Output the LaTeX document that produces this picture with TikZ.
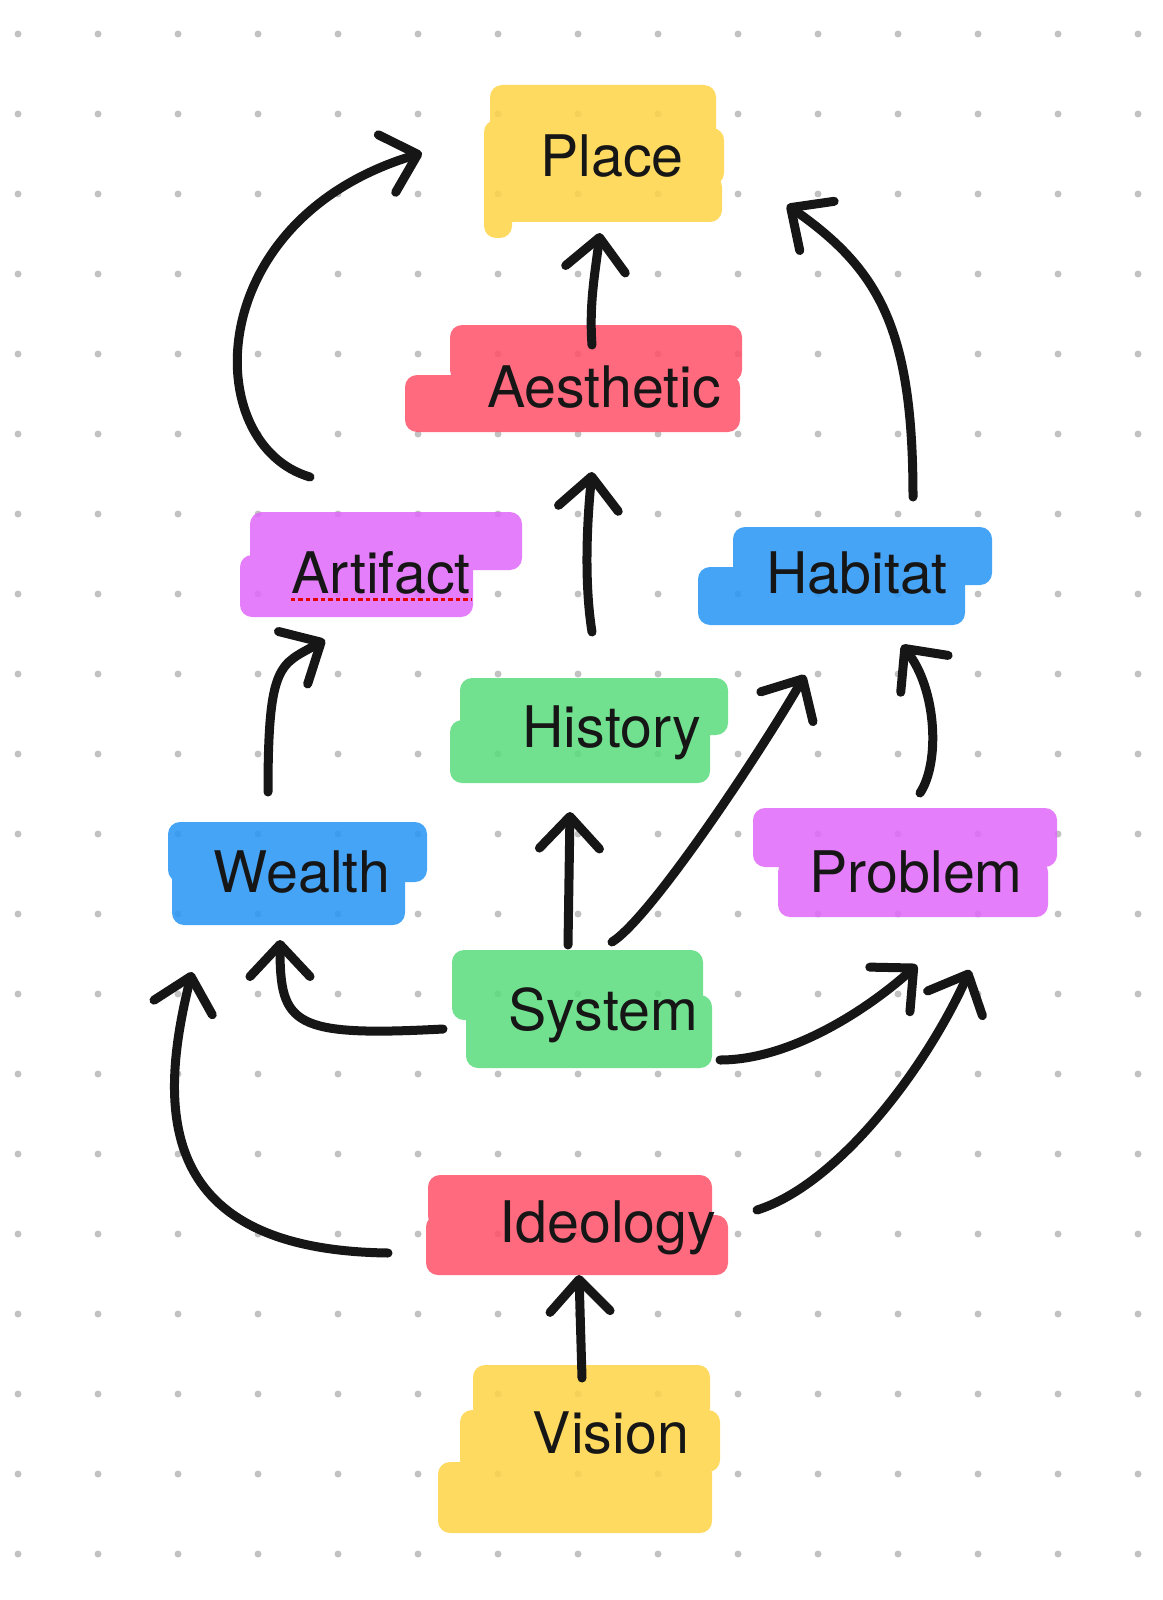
\documentclass[tikz,border=0pt]{standalone}
\usepackage{fontspec}
\setmainfont{TeX Gyre Heros}
\usepackage{tikz}
\usetikzlibrary{arrows.meta}
\definecolor{ink}{RGB}{22,22,22}
\definecolor{dotgrey}{RGB}{194,194,194}
\definecolor{cyellow}{RGB}{255,212,72}
\definecolor{cred}{RGB}{255,82,105}
\definecolor{cmagenta}{RGB}{225,105,250}
\definecolor{cblue}{RGB}{40,150,245}
\definecolor{cgreen}{RGB}{90,220,125}
\tikzset{
  hlgroup/.style = {transparency group, opacity=0.86},
  marker/.style  = {fill=#1, rounded corners=1.2mm},
  word/.style  = {anchor=base, inner sep=0pt, text=ink,
                  font=\fontsize{16.3}{19}\selectfont},
  pen/.style   = {draw=ink, line width=0.9mm, line cap=round, line join=round,
                  -{Straight Barb[length=3.2mm, width=6mm, round]}},
  spell/.style = {draw=red!90!black, line width=0.3mm, dash pattern=on 0.45mm off 0.3mm},
}

\begin{document}
\begin{tikzpicture}[x=0.01cm, y=-0.01cm]
  \useasboundingbox[fill=white] (0,0) rectangle (1162,1600);
  % dot grid
  \foreach \i in {0,...,14}
    \foreach \j in {0,...,19}
      \fill[dotgrey] (18+80*\i, 34+80*\j) circle[radius=3.5];

  % highlighter strokes
  \begin{scope}[hlgroup]
    \fill[marker=cyellow] (490,85) rectangle (716,140);
    \fill[marker=cyellow] (484,128) rectangle (724,185);
    \fill[marker=cyellow] (485,175) rectangle (722,222);
    \fill[marker=cyellow] (484,120) rectangle (512,238);
  \end{scope}
  \begin{scope}[hlgroup]
    \fill[marker=cred] (450,325) rectangle (742,382);
    \fill[marker=cred] (405,375) rectangle (740,432);
  \end{scope}
  \begin{scope}[hlgroup]
    \fill[marker=cmagenta] (250,512) rectangle (522,570);
    \fill[marker=cmagenta] (240,555) rectangle (473,617);
  \end{scope}
  \begin{scope}[hlgroup]
    \fill[marker=cblue] (733,527) rectangle (992,585);
    \fill[marker=cblue] (698,567) rectangle (965,625);
  \end{scope}
  \begin{scope}[hlgroup]
    \fill[marker=cgreen] (460,678) rectangle (728,735);
    \fill[marker=cgreen] (450,720) rectangle (710,783);
  \end{scope}
  \begin{scope}[hlgroup]
    \fill[marker=cblue] (168,822) rectangle (427,882);
    \fill[marker=cblue] (172,862) rectangle (405,925);
  \end{scope}
  \begin{scope}[hlgroup]
    \fill[marker=cmagenta] (753,808) rectangle (1057,867);
    \fill[marker=cmagenta] (778,860) rectangle (1048,917);
  \end{scope}
  \begin{scope}[hlgroup]
    \fill[marker=cgreen] (452,950) rectangle (703,1020);
    \fill[marker=cgreen] (466,995) rectangle (712,1068);
  \end{scope}
  \begin{scope}[hlgroup]
    \fill[marker=cred] (428,1175) rectangle (712,1228);
    \fill[marker=cred] (426,1215) rectangle (728,1275);
  \end{scope}
  \begin{scope}[hlgroup]
    \fill[marker=cyellow] (473,1365) rectangle (710,1420);
    \fill[marker=cyellow] (460,1410) rectangle (720,1472);
    \fill[marker=cyellow] (438,1462) rectangle (712,1533);
  \end{scope}

  % words
  \node[word] (place)  at (612,177)  {Place};
  \node[word] (aest)   at (604,407)  {Aesthetic};
  \node[word] (artf)   at (381,593)  {Artifact};
  \node[word] (hab)    at (857,593)  {Habitat};
  \node[word] (hist)   at (612,747)  {History};
  \node[word] (wealth) at (302,892)  {Wealth};
  \node[word] (prob)   at (916,892)  {Problem};
  \node[word] (sys)    at (603,1030) {System};
  \node[word] (ideo)   at (608,1242) {Ideology};
  \node[word] (vis)    at (611,1453) {Vision};

  \draw[spell] ([shift={(0,6)}]artf.base west) -- ([shift={(0,6)}]artf.base east);

  % pen strokes
  \draw[pen] ([shift={(-71,-116)}]artf.base) .. controls +(-110,-32) and +(-222,67) .. ([shift={(-190,-24)}]place.base);
  \draw[pen] ([shift={(-12,-62)}]aest.base) .. controls +(-3,-40) and +(-5,40) .. ([shift={(-12,56)}]place.base);
  \draw[pen] ([shift={(56,-96)}]hab.base) .. controls +(0,-167) and +(93,65) .. ([shift={(175,28)}]place.base);
  \draw[pen] ([shift={(-20,-115)}]hist.base) .. controls +(-8,-50) and +(-5,50) .. ([shift={(-12,65)}]aest.base);
  \draw[pen] ([shift={(-34,-100)}]wealth.base) .. controls +(0,-130) and +(-45,25) .. ([shift={(-56,47)}]artf.base);
  \draw[pen] ([shift={(-35,-85)}]sys.base) -- ([shift={(-42,65)}]hist.base);
  \draw[pen] ([shift={(9,-88)}]sys.base) .. controls +(40,-25) and +(-40,70) .. ([shift={(-52,82)}]hab.base);
  \draw[pen] ([shift={(4,-99)}]prob.base) .. controls +(20,-30) and +(35,45) .. ([shift={(45,52)}]hab.base);
  \draw[pen] ([shift={(-160,-1)}]sys.base) .. controls +(-150,8) and +(0,85) .. ([shift={(-22,48)}]wealth.base);
  \draw[pen] ([shift={(-220,11)}]ideo.base) .. controls +(-230,-3) and +(-35,140) .. ([shift={(-110,80)}]wealth.base);
  \draw[pen] ([shift={(117,30)}]sys.base) .. controls +(70,0) and +(-50,45) .. ([shift={(1,73)}]prob.base);
  \draw[pen] ([shift={(149,-32)}]ideo.base) .. controls +(80,-25) and +(-45,100) .. ([shift={(54,78)}]prob.base);
  \draw[pen] ([shift={(-29,-75)}]vis.base) -- ([shift={(-29,33)}]ideo.base);
\end{tikzpicture}
\end{document}
